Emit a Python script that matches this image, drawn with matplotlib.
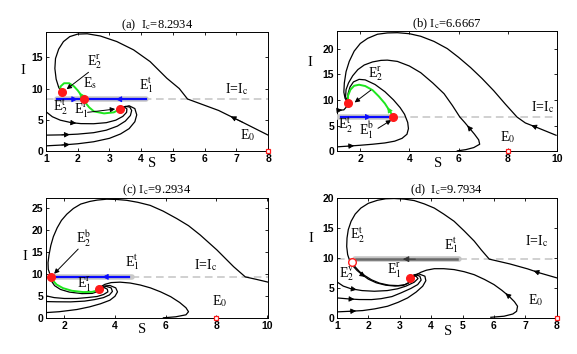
import numpy as np
import matplotlib
matplotlib.use("Agg")
import matplotlib.pyplot as plt

plt.rcParams["font.family"] = ["Liberation Serif", "DejaVu Serif"]
plt.rcParams["mathtext.fontset"] = "stix"

# ---------------- data ----------------
# (a) Ic = 8.2934
a_Ic = 8.2934
a_E2 = (1.49, 9.4)
a_Es = (2.19, 8.33)
a_E1 = (3.33, 6.73)
a_big_S = [8.0, 7.2, 6.44, 5.46, 5.2, 4.81, 4.28, 3.76, 3.23, 2.71, 2.3, 2.0, 1.75, 1.55, 1.4, 1.3, 1.28, 1.32, 1.4, 1.49]
a_big_I = [2.56, 4.6, 6.5, 8.33, 10.0, 11.64, 14.31, 16.18, 17.51, 18.4, 18.75, 18.7, 18.3, 17.5, 16.3, 14.8, 13.2, 11.5, 10.2, 9.4]
a_A_S = [1.0, 1.2, 1.45, 1.8, 2.1, 2.5, 2.9, 3.2, 3.42, 3.54, 3.55, 3.48, 3.38]
a_A_I = [6.3, 5.5, 4.95, 4.55, 4.4, 4.38, 4.55, 4.95, 5.55, 6.2, 6.75, 7.0, 6.85]
a_B_S = [1.0, 1.5, 2.0, 2.5, 2.9, 3.25, 3.5, 3.66, 3.7, 3.64, 3.5, 3.38]
a_B_I = [2.56, 2.6, 2.72, 2.95, 3.35, 4.0, 4.8, 5.7, 6.5, 7.05, 7.15, 6.9]
a_C_S = [1.0, 1.5, 2.0, 2.5, 3.0, 3.35, 3.62, 3.8, 3.86, 3.8, 3.62, 3.45]
a_C_I = [0.85, 0.98, 1.18, 1.5, 2.05, 2.75, 3.6, 4.7, 5.8, 6.8, 7.25, 7.05]
a_gup_S = [2.19, 2.1, 2.0, 1.88, 1.73, 1.57, 1.45, 1.49]
a_gup_I = [8.33, 9.0, 9.7, 10.36, 10.85, 10.85, 10.3, 9.4]
a_gdn_S = [2.19, 2.25, 2.36, 2.51, 2.83, 3.14, 3.33]
a_gdn_I = [8.33, 7.69, 7.0, 6.35, 6.03, 6.2, 6.73]
a_seg = [1.36, 4.15]

# (b) Ic = 6.6667
b_Ic = 6.6667
b_E2 = (1.51, 9.35)
b_E1 = (3.35, 6.667)
b_big_S = [9.97, 9.2, 8.72, 8.38, 7.9, 7.43, 6.95, 6.49, 6.0, 5.54, 5.0, 4.46, 4.0, 3.51, 3.1, 2.7, 2.3, 2.0, 1.75, 1.55, 1.42, 1.35, 1.33, 1.38, 1.51]
b_big_I = [3.1, 4.6, 5.5, 6.65, 9.2, 11.8, 14.2, 16.3, 18.3, 20.0, 21.4, 22.4, 22.9, 23.1, 23.05, 22.8, 22.0, 21.0, 19.5, 17.5, 15.5, 13.3, 11.5, 10.3, 9.35]
b_mid_S = [5.95, 6.3, 6.62, 6.86, 6.82, 6.65, 6.46, 6.25, 6.05, 5.75, 5.41, 4.95, 4.46, 4.0, 3.51, 3.1, 2.84, 2.5, 2.16, 1.9, 1.69, 1.52, 1.42, 1.4, 1.51]
b_mid_I = [0.06, 0.3, 0.7, 1.35, 2.2, 3.3, 4.4, 5.6, 6.67, 8.9, 11.2, 13.3, 15.3, 16.6, 17.5, 17.75, 17.7, 17.4, 16.8, 15.9, 14.7, 13.3, 12.0, 10.6, 9.35]
b_in_S = [1.05, 1.5, 2.0, 2.5, 3.0, 3.4, 3.7, 3.9, 3.96, 3.93, 3.8, 3.62, 3.35, 3.0, 2.6, 2.2, 1.95, 1.72, 1.58, 1.5, 1.48, 1.51]
b_in_I = [0.84, 0.98, 1.15, 1.35, 1.6, 1.95, 2.5, 3.3, 4.4, 5.6, 7.2, 8.5, 10.0, 11.6, 13.0, 13.9, 14.0, 13.5, 12.5, 11.2, 10.2, 9.35]
b_sm_S = [1.05, 1.2, 1.33, 1.43, 1.51]
b_sm_I = [8.1, 8.0, 8.05, 8.6, 9.35]
b_g_S = [3.35, 3.2, 3.0, 2.75, 2.5, 2.2, 1.95, 1.75, 1.6, 1.5, 1.51]
b_g_I = [6.667, 7.8, 9.3, 10.7, 11.9, 12.7, 12.95, 12.75, 12.0, 10.8, 9.35]
b_seg = [1.05, 3.35]

# (c) Ic = 9.2934
c_Ic = 9.2934
c_E2 = (1.48, 9.2934)
c_E1 = (3.37, 6.5)
c_big_S = [10.04, 9.6, 9.14, 8.68, 8.02, 7.36, 6.9, 6.44, 5.9, 5.39, 4.9, 4.46, 4.05, 3.67, 3.3, 3.01, 2.65, 2.36, 2.1, 1.89, 1.72, 1.57, 1.47, 1.4, 1.36, 1.37, 1.43, 1.48]
c_big_I = [8.1, 8.7, 9.29, 11.6, 15.4, 18.8, 20.9, 22.5, 24.2, 25.5, 26.2, 26.65, 26.85, 26.9, 26.7, 26.4, 25.8, 24.8, 23.5, 22.1, 20.4, 18.4, 16.4, 14.3, 12.5, 11.0, 10.0, 9.29]
c_loop_S = [5.91, 6.4, 6.8, 6.9, 6.8, 6.55, 6.2, 5.8, 5.4, 5.0, 4.6, 4.2, 3.85, 3.6, 3.45, 3.37]
c_loop_I = [0.02, 0.25, 0.7, 1.4, 2.3, 3.5, 4.8, 5.9, 6.8, 7.45, 7.9, 8.1, 8.0, 7.6, 7.1, 6.5]
c_1_S = [1.28, 1.6, 2.0, 2.5, 2.9, 3.3, 3.55, 3.72, 3.7, 3.58, 3.37]
c_1_I = [5.0, 4.6, 4.4, 4.4, 4.6, 4.85, 5.3, 5.9, 6.5, 6.85, 6.5]
c_2_S = [1.28, 1.7, 2.25, 2.8, 3.2, 3.55, 3.78, 3.9, 3.85, 3.65, 3.37]
c_2_I = [3.7, 3.65, 3.63, 3.8, 4.15, 4.6, 5.2, 6.0, 6.8, 7.15, 6.5]
c_3_S = [1.28, 1.8, 2.5, 3.0, 3.43, 3.8, 4.0, 4.1, 4.03, 3.8, 3.55, 3.37]
c_3_I = [1.2, 1.4, 1.9, 2.5, 3.2, 4.0, 4.9, 5.9, 6.8, 7.35, 7.2, 6.5]
c_0_S = [1.48, 1.5, 1.62, 1.85, 2.2, 2.7, 3.1, 3.3, 3.37]
c_0_I = [9.29, 8.3, 7.3, 6.45, 5.85, 5.5, 5.55, 5.95, 6.5]
c_g_S = [1.48, 1.56, 1.7, 1.95, 2.3, 2.75, 3.1, 3.3, 3.37]
c_g_I = [9.29, 8.4, 7.55, 6.75, 6.15, 5.85, 5.9, 6.2, 6.5]
c_seg = [1.48, 4.66]

# (d) Ic = 9.7934
d_Ic = 9.7934
d_E2 = (1.49, 9.33)
d_E1 = (3.33, 6.6)
d_big_S = [8.0, 7.45, 7.07, 6.5, 5.85, 5.6, 5.37, 5.05, 4.73, 4.4, 4.1, 3.78, 3.46, 3.14, 2.82, 2.55, 2.29, 2.0, 1.76, 1.58, 1.45, 1.36, 1.32, 1.31, 1.34, 1.4, 1.5, 1.64, 1.8, 2.0, 2.25, 2.55, 2.85, 3.1, 3.28, 3.35, 3.33]
d_big_I = [6.67, 7.5, 8.17, 9.0, 9.79, 11.3, 12.8, 14.5, 16.1, 17.3, 18.3, 19.0, 19.55, 19.8, 19.9, 19.85, 19.6, 19.1, 18.3, 17.3, 16.1, 14.7, 13.3, 11.9, 10.55, 9.6, 8.7, 7.9, 7.2, 6.45, 5.85, 5.45, 5.3, 5.4, 5.8, 6.2, 6.6]
d_2nd_S = [1.49, 1.58, 1.72, 1.9, 2.1, 2.35, 2.65, 2.95, 3.17, 3.3, 3.33]
d_2nd_I = [9.33, 8.5, 7.7, 7.0, 6.35, 5.8, 5.45, 5.38, 5.55, 5.95, 6.6]
d_1_S = [1.0, 1.2, 1.45, 1.8, 2.19, 2.6, 2.93, 3.2, 3.46, 3.58, 3.52, 3.4, 3.33]
d_1_I = [6.0, 5.3, 4.85, 4.55, 4.44, 4.55, 4.85, 5.3, 5.95, 6.55, 6.95, 6.9, 6.6]
d_2_S = [1.0, 1.4, 1.71, 2.1, 2.4, 2.75, 3.04, 3.35, 3.57, 3.68, 3.64, 3.5, 3.4, 3.33]
d_2_I = [3.33, 3.15, 3.06, 3.05, 3.2, 3.55, 4.17, 4.9, 5.55, 6.3, 6.95, 7.2, 7.0, 6.6]
d_3_S = [1.0, 1.4, 1.82, 2.2, 2.61, 2.95, 3.25, 3.52, 3.73, 3.83, 3.8, 3.6, 3.45, 3.33]
d_3_I = [1.0, 1.1, 1.22, 1.5, 1.94, 2.6, 3.33, 4.3, 5.28, 6.2, 6.95, 7.35, 7.15, 6.6]
d_loop_S = [5.9, 6.32, 6.6, 6.72, 6.75, 6.65, 6.48, 6.25, 6.0, 5.7, 5.37, 5.05, 4.73, 4.4, 4.1, 3.85, 3.67, 3.5, 3.33]
d_loop_I = [0.1, 0.28, 0.65, 1.1, 1.94, 2.7, 3.6, 4.6, 5.55, 6.4, 7.2, 7.7, 8.05, 8.2, 8.2, 7.95, 7.6, 7.1, 6.6]
d_seg = [1.57, 4.89]

E0 = (8.0, 0.0)

# ---------------- helpers ----------------
GREEN = "#1ee61e"
BLUE = "#0a0aff"
RED = "#ff1a1a"


def curve(ax, S, I, color="k", lw=0.9, arrows=(), zorder=3):
    ax.plot(S, I, color=color, lw=lw, zorder=zorder, solid_joinstyle="round")
    for k in arrows:
        x0, y0 = S[k], I[k]
        x1, y1 = (S[k] + S[k + 1]) / 2, (I[k] + I[k + 1]) / 2
        ax.annotate("", xy=(x1, y1), xytext=(x0, y0),
                    arrowprops=dict(arrowstyle="-|>", color=color, lw=0.6,
                                    mutation_scale=8, shrinkA=0, shrinkB=0),
                    zorder=zorder + 1)


def arrow_on_line(ax, x0, x1, y, color):
    ax.annotate("", xy=(x1, y), xytext=(x0, y),
                arrowprops=dict(arrowstyle="-|>", color=color, lw=0.6,
                                mutation_scale=9, shrinkA=0, shrinkB=0), zorder=7)


def pointer(ax, tail, head):
    ax.annotate("", xy=head, xytext=tail,
                arrowprops=dict(arrowstyle="-|>", color="k", lw=0.7,
                                mutation_scale=7, shrinkA=0, shrinkB=0), zorder=8)


def label(ax, x, y, s, size=10):
    ax.text(x, y, s, fontsize=size, ha="left", va="center", zorder=9)


def frame(ax, xlim, ylim, xticks, yticks, title, Ic, ylab, xlab):
    ax.set_xlim(*xlim)
    ax.set_ylim(*ylim)
    ax.set_xticks(xticks)
    ax.set_yticks(yticks)
    ax.tick_params(direction="in", top=True, right=True, length=2.5, width=0.6,
                   labelsize=7.5, pad=2)
    for lab in ax.get_xticklabels() + ax.get_yticklabels():
        lab.set_family("Liberation Sans")
        lab.set_fontweight("bold")
    for sp in ax.spines.values():
        sp.set_linewidth(0.7)
    ax.axhline(Ic, color="#c4c4c4", lw=1.1, dashes=(5, 3), zorder=1)
    ax.set_title(title, fontsize=9, pad=3)
    ax.text(ylab[0], ylab[1], "I", transform=ax.transAxes, fontsize=10.5, ha="center", va="center")
    ax.text(xlab[0], xlab[1], "S", transform=ax.transAxes, fontsize=10.5, ha="center", va="center")


def dots(ax, pts, hollow=False):
    for (x, y) in pts:
        ax.plot(x, y, "o", ms=5.5, mfc="white" if hollow else RED, mec=RED, mew=1.0, zorder=10)


def e0(ax):
    ax.plot(*E0, "s", ms=3.5, mfc="white", mec=RED, mew=0.9, zorder=10, clip_on=False)


fig = plt.figure(figsize=(5.77, 3.54), dpi=100)
axA = fig.add_axes([0.0797, 0.573, 0.385, 0.336])
axB = fig.add_axes([0.584, 0.573, 0.381, 0.339])
axC = fig.add_axes([0.0797, 0.102, 0.385, 0.339])
axD = fig.add_axes([0.584, 0.102, 0.381, 0.339])

# ---------------- (a) ----------------
ax = axA
frame(ax, (1, 8), (0, 19), range(1, 9), [0, 5, 10, 15], r"(a)  I$_\mathrm{c}$=8.2934", a_Ic, (-0.104, 0.68), (0.48, -0.10))
ax.plot(a_seg, [a_Ic, a_Ic], color="#c8c8c8", lw=4, solid_capstyle="round", zorder=4)
ax.plot(a_seg, [a_Ic, a_Ic], color=BLUE, lw=1.6, zorder=5)
arrow_on_line(ax, 1.7, 2.0, a_Ic, BLUE)
arrow_on_line(ax, 3.5, 3.2, a_Ic, BLUE)
curve(ax, a_big_S, a_big_I, arrows=[1])
curve(ax, a_A_S, a_A_I, arrows=[3])
curve(ax, a_B_S, a_B_I, arrows=[1])
curve(ax, a_C_S, a_C_I, arrows=[1])
curve(ax, a_gup_S, a_gup_I, color=GREEN, lw=1.4, arrows=[1])
curve(ax, a_gdn_S, a_gdn_I, color=GREEN, lw=1.4, arrows=[0])
dots(ax, [a_E2, a_Es, a_E1])
e0(ax)
pointer(ax, (2.34, 12.6), (1.65, 9.9))
pointer(ax, (2.31, 6.2), (3.18, 6.73))
label(ax, 2.28, 14.3, r"E$_2^\mathrm{r}$")
label(ax, 2.16, 10.8, r"E$_\mathrm{s}$")
label(ax, 3.93, 10.6, r"E$_1^\mathrm{t}$")
label(ax, 6.65, 9.9, r"I=I$_\mathrm{c}$")
label(ax, 1.22, 7.0, r"E$_2^\mathrm{t}$")
label(ax, 1.88, 6.5, r"E$_1^\mathrm{r}$")
label(ax, 7.12, 2.5, r"E$_0$")

# ---------------- (b) ----------------
ax = axB
frame(ax, (1.05, 10), (0, 23.4), [2, 4, 6, 8, 10], [0, 5, 10, 15, 20], r"(b) I$_\mathrm{c}$=6.6667", b_Ic, (-0.124, 0.74), (0.46, -0.10))
ax.plot(b_seg, [b_Ic, b_Ic], color="#c8c8c8", lw=4, solid_capstyle="round", zorder=4)
ax.plot([1.2, b_seg[1]], [b_Ic, b_Ic], color=BLUE, lw=1.6, zorder=5)
arrow_on_line(ax, 2.1, 2.45, b_Ic, BLUE)
curve(ax, b_big_S, b_big_I, arrows=[1])
curve(ax, b_mid_S, b_mid_I, arrows=[6])
curve(ax, b_in_S, b_in_I, arrows=[1])
curve(ax, b_sm_S, b_sm_I, arrows=[1])
curve(ax, b_g_S, b_g_I, color=GREEN, lw=1.4, arrows=[1])
dots(ax, [b_E2, b_E1])
e0(ax)
pointer(ax, (2.43, 11.9), (1.77, 9.5))
pointer(ax, (2.72, 4.45), (3.26, 6.06))
label(ax, 2.33, 15.0, r"E$_2^\mathrm{r}$")
label(ax, 1.93, 4.0, r"E$_1^\mathrm{b}$")
label(ax, 1.08, 5.1, r"E$_2^\mathrm{t}$")
label(ax, 8.95, 8.6, r"I=I$_\mathrm{c}$")
label(ax, 7.68, 2.8, r"E$_0$")

# ---------------- (c) ----------------
ax = axC
frame(ax, (1.28, 10.04), (0, 27.2), [2, 4, 6, 8, 10], [0, 5, 10, 15, 20, 25], r"(c) I$_\mathrm{c}$=9.2934", c_Ic, (-0.095, 0.51), (0.435, -0.10))
ax.plot(c_seg, [c_Ic, c_Ic], color="#c8c8c8", lw=4, solid_capstyle="round", zorder=4)
ax.plot([c_seg[0], 4.55], [c_Ic, c_Ic], color=BLUE, lw=1.6, zorder=5)
arrow_on_line(ax, 3.9, 3.5, c_Ic, BLUE)
curve(ax, c_big_S, c_big_I)
curve(ax, c_loop_S, c_loop_I)
curve(ax, c_1_S, c_1_I)
curve(ax, c_2_S, c_2_I)
curve(ax, c_3_S, c_3_I)
curve(ax, c_0_S, c_0_I)
curve(ax, c_g_S, c_g_I, color=GREEN, lw=1.4, arrows=[1])
dots(ax, [c_E2, c_E1])
e0(ax)
pointer(ax, (2.55, 15.6), (1.6, 10.0))
label(ax, 2.48, 18.0, r"E$_2^\mathrm{b}$")
label(ax, 4.38, 12.6, r"E$_1^\mathrm{t}$")
label(ax, 7.1, 12.0, r"I=I$_\mathrm{c}$")
label(ax, 2.5, 7.5, r"E$_1^\mathrm{r}$")
label(ax, 7.82, 3.8, r"E$_0$")

# ---------------- (d) ----------------
ax = axD
frame(ax, (1, 8), (0, 20), range(1, 9), [0, 5, 10, 15, 20], r"(d)  I$_\mathrm{c}$=9.7934", d_Ic, (-0.12, 0.66), (0.505, -0.114))
ax.plot(d_seg, [d_Ic, d_Ic], color="#c4c4c4", lw=4, solid_capstyle="round", zorder=4)
ax.plot([1.62, 4.82], [d_Ic, d_Ic], color="#6a6a6a", lw=1.8, zorder=5)
arrow_on_line(ax, 3.5, 3.1, d_Ic, "#333333")
curve(ax, d_big_S, d_big_I, arrows=[1, 28])
curve(ax, d_2nd_S, d_2nd_I)
curve(ax, d_1_S, d_1_I, arrows=[2])
curve(ax, d_2_S, d_2_I, arrows=[1])
curve(ax, d_3_S, d_3_I, arrows=[1])
curve(ax, d_loop_S, d_loop_I, arrows=[6])
dots(ax, [d_E1])
dots(ax, [d_E2], hollow=True)
e0(ax)
label(ax, 1.42, 13.8, r"E$_2^\mathrm{t}$")
label(ax, 4.42, 12.1, r"E$_1^\mathrm{t}$")
label(ax, 7.0, 12.8, r"I=I$_\mathrm{c}$")
label(ax, 1.05, 7.3, r"E$_2^\mathrm{v}$")
label(ax, 2.6, 7.8, r"E$_1^\mathrm{r}$")
label(ax, 7.08, 2.9, r"E$_0$")

fig.savefig("out.png", dpi=100)
